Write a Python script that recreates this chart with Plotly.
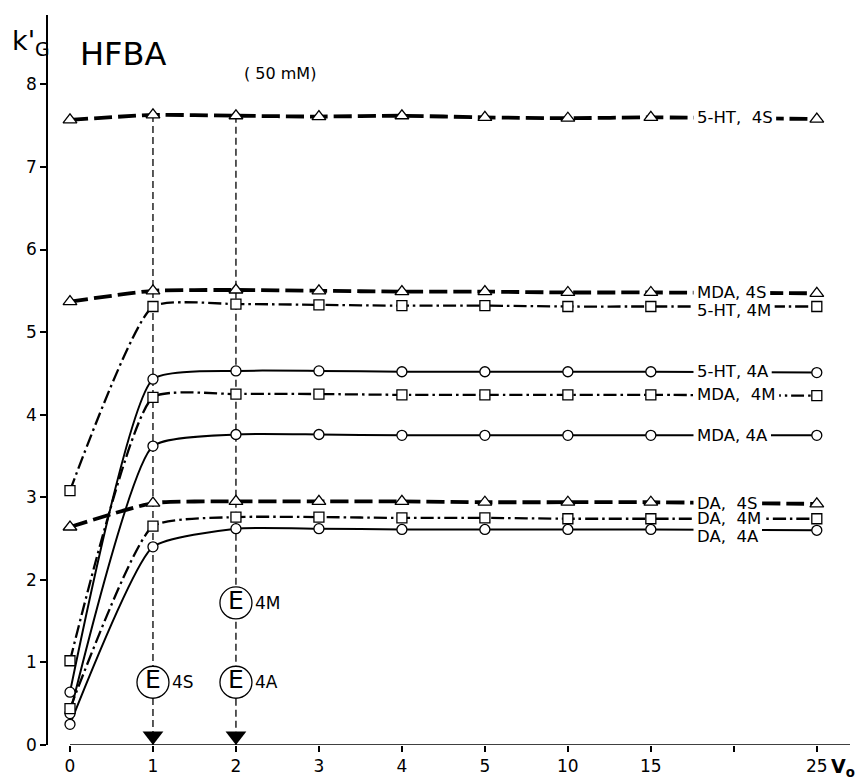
import plotly.graph_objects as go

# ---------------- data ----------------
v0_values = [0, 1, 2, 3, 4, 5, 10, 15, 25]
axis_ticks = [0, 1, 2, 3, 4, 5, 10, 15, 20, 25]
tick_labels = ["0", "1", "2", "3", "4", "5", "10", "15", "", "25"]
y_ticks = [0, 1, 2, 3, 4, 5, 6, 7, 8]

ht5_4s = [7.57, 7.63, 7.62, 7.61, 7.62, 7.60, 7.59, 7.60, 7.58]
mda_4s = [5.37, 5.50, 5.51, 5.50, 5.49, 5.49, 5.48, 5.48, 5.47]
da_4s = [2.64, 2.93, 2.95, 2.95, 2.95, 2.94, 2.94, 2.94, 2.92]
ht5_4m = [3.08, 5.31, 5.34, 5.33, 5.32, 5.32, 5.31, 5.31, 5.31]
mda_4m = [1.02, 4.21, 4.25, 4.25, 4.24, 4.24, 4.24, 4.24, 4.23]
da_4m = [0.44, 2.65, 2.76, 2.76, 2.75, 2.75, 2.74, 2.74, 2.74]
ht5_4a = [0.64, 4.43, 4.53, 4.53, 4.52, 4.52, 4.52, 4.52, 4.51]
mda_4a = [0.38, 3.62, 3.76, 3.76, 3.75, 3.75, 3.75, 3.75, 3.75]
da_4a = [0.25, 2.40, 2.62, 2.62, 2.61, 2.61, 2.61, 2.61, 2.60]

series_labels = ["5-HT,\u00a0\u00a04S", "MDA,\u00a04S", "5-HT,\u00a04M", "5-HT,\u00a04A",
                 "MDA,\u00a0\u00a04M", "MDA,\u00a04A", "DA,\u00a0\u00a04S", "DA,\u00a0\u00a04M",
                 "DA,\u00a0\u00a04A"]
series_values = [ht5_4s, mda_4s, ht5_4m, ht5_4a, mda_4m, mda_4a, da_4s, da_4m, da_4a]
series_phase = ["4S", "4S", "4M", "4A", "4M", "4A", "4S", "4M", "4A"]
label_shift = [0, 0, -4, 0, 0, 0, -1, 0, -7]

e_labels = ["4S", "4A", "4M"]
e_v0 = [1, 2, 2]
e_y = [0.76, 0.76, 1.72]
arrow_v0 = [1, 2]

# ---------------- styles ----------------
FONT = "DejaVu Sans"
phase_style = {
    "4S": dict(dash="18px,6px", width=3.8, symbol="triangle-up", size=12),
    "4M": dict(dash="13px,4px,2.5px,4px", width=2.3, symbol="square", size=10),
    "4A": dict(dash="solid", width=2.0, symbol="circle", size=10),
}

def pos(v):
    return axis_ticks.index(v)

xpos = [pos(v) for v in v0_values]

# approximate DejaVu Sans advance widths (em units)
cw = {"-": 0.361, ",": 0.318, "\u00a0": 0.318, " ": 0.318, "H": 0.752, "T": 0.611,
      "S": 0.635, "M": 0.863, "D": 0.770, "A": 0.684}
def text_width(t, size):
    return sum(cw.get(c, 0.636) for c in t) * size

fig = go.Figure()

# lines first
for vals, ph in zip(series_values, series_phase):
    st = phase_style[ph]
    fig.add_trace(go.Scatter(
        x=xpos, y=vals, mode="lines",
        line=dict(shape="spline", smoothing=0.5, color="black", width=st["width"], dash=st["dash"]),
        hoverinfo="skip", showlegend=False, cliponaxis=False))
# then markers
for vals, ph in zip(series_values, series_phase):
    st = phase_style[ph]
    fig.add_trace(go.Scatter(
        x=xpos, y=vals, mode="markers",
        marker=dict(symbol=st["symbol"], size=st["size"], color="white",
                    line=dict(color="black", width=1.3)),
        showlegend=False, cliponaxis=False))

# vertical dashed guide lines from the 5-HT 4S point down to the axis
shapes = []
for v in arrow_v0:
    top = ht5_4s[v0_values.index(v)]
    shapes.append(dict(type="line", xref="x", yref="y", x0=pos(v), x1=pos(v), y0=top, y1=0,
                       line=dict(color="black", width=1.3, dash="7px,4px"), layer="below"))

# x axis line starting at 0
shapes.append(dict(type="line", xref="x", yref="y", x0=0, x1=9.4, y0=0, y1=0,
                   line=dict(color="black", width=1.6), layer="above"))

# E circles
fig.add_trace(go.Scatter(
    x=[pos(v) for v in e_v0], y=e_y, mode="markers+text", text=["E"] * len(e_y),
    textposition="middle center", textfont=dict(family=FONT, size=25, color="black"),
    marker=dict(symbol="circle", size=32, color="white", line=dict(color="black", width=1.3)),
    showlegend=False, cliponaxis=False))

# arrow heads at the axis
fig.add_trace(go.Scatter(
    x=[pos(v) for v in arrow_v0], y=[0.11] * len(arrow_v0), mode="markers",
    marker=dict(symbol="triangle-down", size=18, color="black", line=dict(width=0)),
    showlegend=False, cliponaxis=False))

annotations = []
label_x = 7.55
LABEL_SIZE = 16.5
for lab, vals, sh in zip(series_labels, series_values, label_shift):
    yv = vals[v0_values.index(15)]
    w = text_width(lab, LABEL_SIZE)
    shapes.append(dict(type="rect", xref="x", yref="y", xsizemode="pixel", ysizemode="pixel",
                       xanchor=label_x, yanchor=yv, x0=-3, x1=w + 4, y0=-4, y1=4,
                       fillcolor="white", line=dict(width=0), layer="above"))
    annotations.append(dict(x=label_x, y=yv, xref="x", yref="y", text=lab, showarrow=False,
                            xanchor="left", yanchor="middle", yshift=sh, xshift=-1,
                            font=dict(family=FONT, size=LABEL_SIZE, color="black")))

for lab, v, yv in zip(e_labels, e_v0, e_y):
    annotations.append(dict(x=pos(v), y=yv, xref="x", yref="y", text=lab, showarrow=False,
                            xanchor="left", yanchor="middle", xshift=17,
                            font=dict(family=FONT, size=17, color="black")))

# titles
annotations += [
    dict(x=-0.021, y=0.962, xref="paper", yref="paper", text="k'<sub>G</sub>", showarrow=False,
         xanchor="center", yanchor="middle", font=dict(family=FONT, size=27, color="black")),
    dict(x=0.038, y=0.946, xref="paper", yref="paper", text="HFBA", showarrow=False,
         xanchor="left", yanchor="middle", font=dict(family=FONT, size=32, color="black")),
    dict(x=0.242, y=0.92, xref="paper", yref="paper", text="(\u00a050\u00a0mM)", showarrow=False,
         xanchor="left", yanchor="middle", font=dict(family=FONT, size=16, color="black")),
    dict(x=0.974, y=-0.031, xref="paper", yref="paper", text="<b>V<sub>o</sub></b>", showarrow=False,
         xanchor="left", yanchor="middle", font=dict(family=FONT, size=19, color="black")),
]

fig.update_layout(
    width=861, height=779,
    margin=dict(l=48, r=11, t=15, b=34, autoexpand=False),
    paper_bgcolor="white", plot_bgcolor="white",
    showlegend=False,
    shapes=shapes, annotations=annotations,
    xaxis=dict(range=[-0.265, 9.4], tickmode="array", tickvals=list(range(len(axis_ticks))),
               ticktext=tick_labels, showline=False, showgrid=False, zeroline=False,
               automargin=False,
               ticks="outside", ticklen=6, tickwidth=1.5, tickcolor="black",
               tickfont=dict(family=FONT, size=17, color="black")),
    yaxis=dict(range=[0, 8.84], tickmode="array", tickvals=y_ticks,
               showline=True, linecolor="black", linewidth=1.6, showgrid=False, zeroline=False,
               automargin=False,
               ticks="outside", ticklen=6, tickwidth=1.5, tickcolor="black",
               tickfont=dict(family=FONT, size=17, color="black")),
)

fig.write_html("out.html", config={"displayModeBar": False},
               post_script="document.body.style.margin='0px';")
